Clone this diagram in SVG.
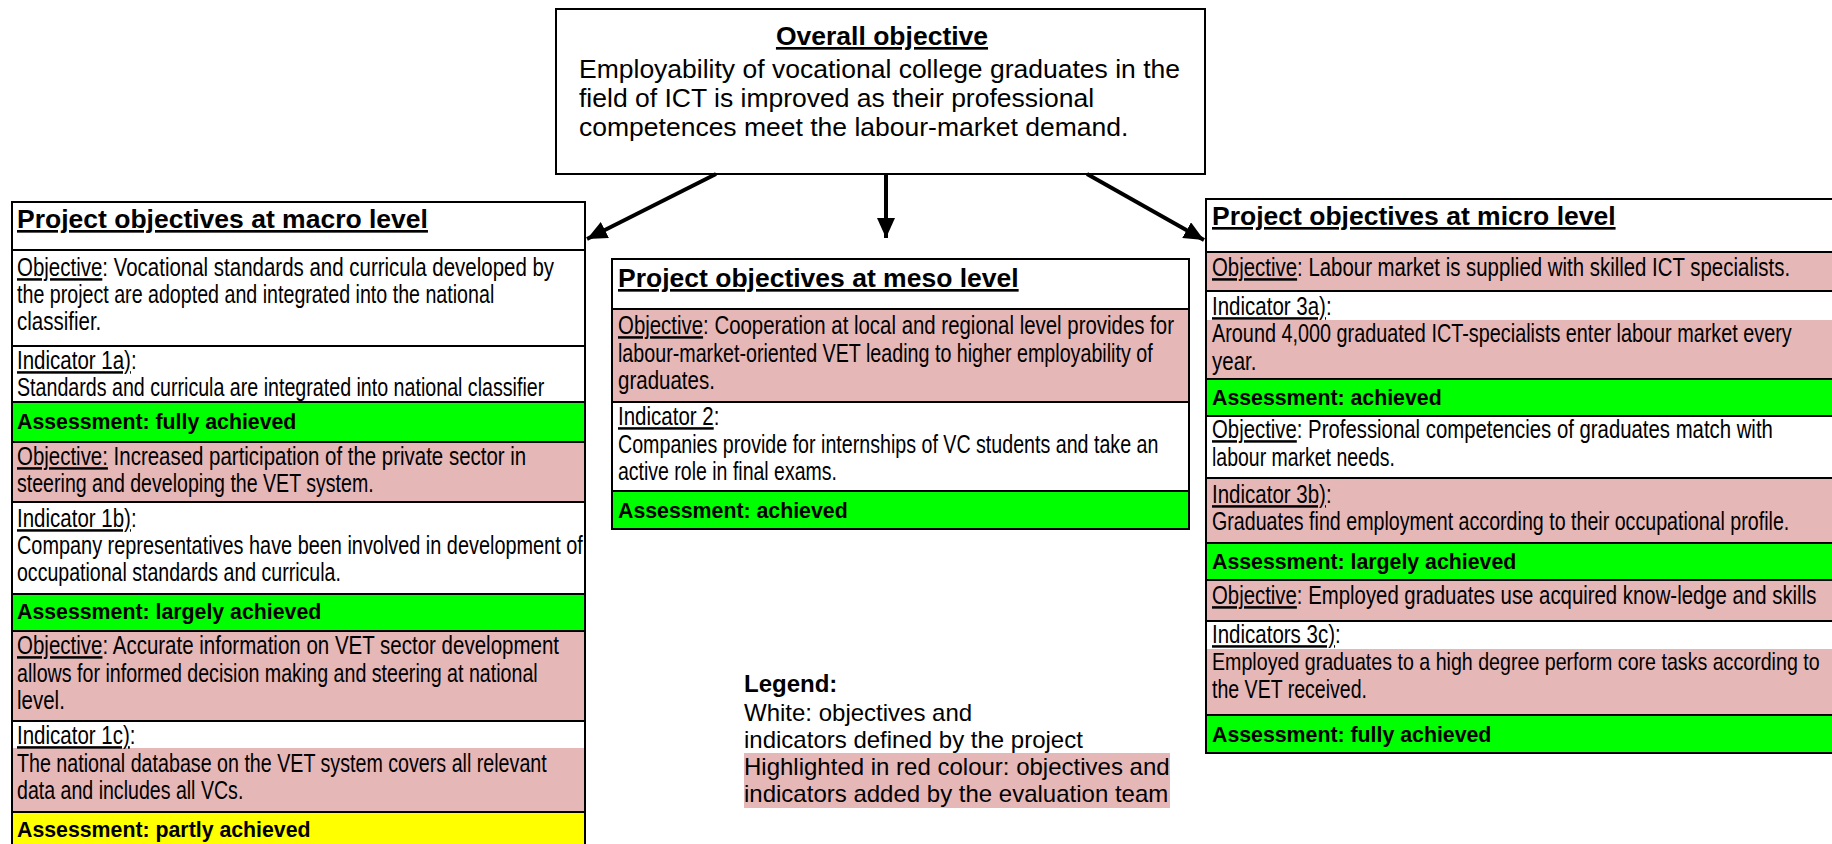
<svg xmlns="http://www.w3.org/2000/svg" width="1832" height="844" viewBox="0 0 1832 844">
<style>
text{font-family:"Liberation Sans",Arial,sans-serif;fill:#000}
.h{font-size:26.5px;font-weight:bold;text-decoration:underline}
.b{font-size:25px}
.a{font-size:21.3px;font-weight:bold}
.o{font-size:26.5px}
.lg{font-size:24px}
.u{text-decoration:underline}
.w{fill:#fff}
.p{fill:#E5B7B7}
.g{fill:#00FF00}
.y{fill:#FFFF00}
.sep{stroke:#000;stroke-width:2;fill:none}
.frame{fill:none;stroke:#000;stroke-width:2}
.conn{stroke:#000;stroke-width:4;fill:none}
</style>
<defs>
<marker id="arr" markerUnits="userSpaceOnUse" markerWidth="22" markerHeight="18" refX="20" refY="9" orient="auto">
<path d="M0,0 L20,9 L0,18 Z" fill="#000"/>
</marker>
</defs>
<rect width="1832" height="844" fill="#fff"/>

<g id="node-overall">
<rect x="556" y="9" width="649" height="165" class="frame" fill="#fff"/>
<text x="882" y="45" class="h" text-anchor="middle">Overall objective</text>
<text x="579" y="78" class="o">Employability of vocational college graduates in the</text>
<text x="579" y="107" class="o">field of ICT is improved as their professional</text>
<text x="579" y="136" class="o">competences meet the labour-market demand.</text>
</g>

<g id="connectors">
<line x1="716" y1="174" x2="587" y2="239" class="conn" marker-end="url(#arr)"/>
<line x1="886" y1="174" x2="886" y2="238" class="conn" marker-end="url(#arr)"/>
<line x1="1087" y1="174" x2="1204" y2="240" class="conn" marker-end="url(#arr)"/>
</g>

<g id="node-macro">
<rect x="12" y="202" width="573" height="48" class="w"/>
<rect x="12" y="250" width="573" height="96" class="w"/>
<rect x="12" y="346" width="573" height="56" class="w"/>
<rect x="12" y="402" width="573" height="40" class="g"/>
<rect x="12" y="442" width="573" height="60" class="p"/>
<rect x="12" y="502" width="573" height="92" class="w"/>
<rect x="12" y="594" width="573" height="37" class="g"/>
<rect x="12" y="631" width="573" height="90" class="p"/>
<rect x="12" y="721" width="573" height="27" class="w"/>
<rect x="12" y="748" width="573" height="64" class="p"/>
<rect x="12" y="812" width="573" height="32" class="y"/>
<path class="sep" d="M12,250H585M12,346H585M12,402H585M12,442H585M12,502H585M12,594H585M12,631H585M12,721H585M12,812H585"/>
<path class="frame" d="M12,844V202H585V844"/>
<text x="17" y="228" class="h">Project objectives at macro level</text>
<g transform="translate(17 0) scale(0.82 1)">
<text x="0" y="276" class="b" textLength="655" lengthAdjust="spacingAndGlyphs"><tspan class="u">Objective</tspan>: Vocational standards and curricula developed by</text>
<text x="0" y="303" class="b" textLength="582" lengthAdjust="spacingAndGlyphs">the project are adopted and integrated into the national</text>
<text x="0" y="330" class="b">classifier.</text>
<text x="0" y="369" class="b"><tspan class="u">Indicator 1a)</tspan>:</text>
<text x="0" y="396" class="b" textLength="643" lengthAdjust="spacingAndGlyphs">Standards and curricula are integrated into national classifier</text>
<text x="0" y="465" class="b" textLength="621" lengthAdjust="spacingAndGlyphs"><tspan class="u">Objective:</tspan> Increased participation of the private sector in</text>
<text x="0" y="492" class="b" textLength="435" lengthAdjust="spacingAndGlyphs">steering and developing the VET system.</text>
<text x="0" y="527" class="b"><tspan class="u">Indicator 1b)</tspan>:</text>
<text x="0" y="554" class="b" textLength="690" lengthAdjust="spacingAndGlyphs">Company representatives have been involved in development of</text>
<text x="0" y="581" class="b" textLength="395" lengthAdjust="spacingAndGlyphs">occupational standards and curricula.</text>
<text x="0" y="654" class="b" textLength="661" lengthAdjust="spacingAndGlyphs"><tspan class="u">Objective</tspan>: Accurate information on VET sector development</text>
<text x="0" y="682" class="b" textLength="635" lengthAdjust="spacingAndGlyphs">allows for informed decision making and steering at national</text>
<text x="0" y="709" class="b">level.</text>
<text x="0" y="744" class="b"><tspan class="u">Indicator 1c)</tspan>:</text>
<text x="0" y="772" class="b" textLength="646" lengthAdjust="spacingAndGlyphs">The national database on the VET system covers all relevant</text>
<text x="0" y="799" class="b" textLength="276" lengthAdjust="spacingAndGlyphs">data and includes all VCs.</text>
</g>
<text x="17" y="429" class="a">Assessment: fully achieved</text>
<text x="17" y="619" class="a">Assessment: largely achieved</text>
<text x="17" y="837" class="a">Assessment: partly achieved</text>
</g>

<g id="node-meso">
<rect x="612" y="259" width="577" height="50" class="w"/>
<rect x="612" y="309" width="577" height="93" class="p"/>
<rect x="612" y="402" width="577" height="89" class="w"/>
<rect x="612" y="491" width="577" height="38" class="g"/>
<path class="sep" d="M612,309H1189M612,402H1189M612,491H1189"/>
<rect x="612" y="259" width="577" height="270" class="frame"/>
<text x="618" y="287" class="h">Project objectives at meso level</text>
<g transform="translate(618 0) scale(0.82 1)">
<text x="0" y="334" class="b" textLength="678" lengthAdjust="spacingAndGlyphs"><tspan class="u">Objective</tspan>: Cooperation at local and regional level provides for</text>
<text x="0" y="362" class="b" textLength="652" lengthAdjust="spacingAndGlyphs">labour-market-oriented VET leading to higher employability of</text>
<text x="0" y="389" class="b">graduates.</text>
<text x="0" y="425" class="b"><tspan class="u">Indicator 2</tspan>:</text>
<text x="0" y="453" class="b" textLength="659" lengthAdjust="spacingAndGlyphs">Companies provide for internships of VC students and take an</text>
<text x="0" y="480" class="b" textLength="267" lengthAdjust="spacingAndGlyphs">active role in final exams.</text>
</g>
<text x="618" y="518" class="a">Assessment: achieved</text>
</g>

<g id="node-micro">
<rect x="1206" y="199" width="626" height="53" class="w"/>
<rect x="1206" y="252" width="626" height="39" class="p"/>
<rect x="1206" y="291" width="626" height="29" class="w"/>
<rect x="1206" y="320" width="626" height="59" class="p"/>
<rect x="1206" y="379" width="626" height="37" class="g"/>
<rect x="1206" y="416" width="626" height="62" class="w"/>
<rect x="1206" y="478" width="626" height="65" class="p"/>
<rect x="1206" y="543" width="626" height="37" class="g"/>
<rect x="1206" y="580" width="626" height="41" class="p"/>
<rect x="1206" y="621" width="626" height="28" class="w"/>
<rect x="1206" y="649" width="626" height="66" class="p"/>
<rect x="1206" y="715" width="626" height="38" class="g"/>
<path class="sep" d="M1206,252H1832M1206,291H1832M1206,379H1832M1206,416H1832M1206,478H1832M1206,543H1832M1206,580H1832M1206,621H1832M1206,715H1832"/>
<path class="frame" d="M1832,199H1206V753H1832"/>
<text x="1212" y="225" class="h">Project objectives at micro level</text>
<g transform="translate(1212 0) scale(0.82 1)">
<text x="0" y="276" class="b" textLength="705" lengthAdjust="spacingAndGlyphs"><tspan class="u">Objective</tspan>: Labour market is supplied with skilled ICT specialists.</text>
<text x="0" y="315" class="b"><tspan class="u">Indicator 3a)</tspan>:</text>
<text x="0" y="342" class="b" textLength="707" lengthAdjust="spacingAndGlyphs">Around 4,000 graduated ICT-specialists enter  labour market  every</text>
<text x="0" y="370" class="b">year.</text>
<text x="0" y="438" class="b" textLength="684" lengthAdjust="spacingAndGlyphs"><tspan class="u">Objective</tspan>: Professional competencies of graduates match with</text>
<text x="0" y="466" class="b" textLength="223" lengthAdjust="spacingAndGlyphs">labour market needs.</text>
<text x="0" y="503" class="b"><tspan class="u">Indicator 3b)</tspan>:</text>
<text x="0" y="530" class="b" textLength="704" lengthAdjust="spacingAndGlyphs">Graduates find employment according to their occupational profile.</text>
<text x="0" y="604" class="b" textLength="737" lengthAdjust="spacingAndGlyphs"><tspan class="u">Objective</tspan>: Employed graduates use acquired know-ledge and skills</text>
<text x="0" y="643" class="b"><tspan class="u">Indicators 3c)</tspan>:</text>
<text x="0" y="670" class="b" font-size="24" style="font-size:24px" textLength="741" lengthAdjust="spacingAndGlyphs">Employed graduates to a high degree perform core tasks according to</text>
<text x="0" y="698" class="b" textLength="189" lengthAdjust="spacingAndGlyphs">the VET received.</text>
</g>
<text x="1212" y="405" class="a">Assessment: achieved</text>
<text x="1212" y="569" class="a">Assessment: largely achieved</text>
<text x="1212" y="742" class="a">Assessment: fully achieved</text>
</g>

<g id="legend">
<rect x="744" y="753" width="426" height="55" class="p"/>
<text x="744" y="692" class="lg" font-weight="bold">Legend:</text>
<text x="744" y="721" class="lg">White: objectives and</text>
<text x="744" y="748" class="lg">indicators defined by the project</text>
<text x="744" y="775" class="lg">Highlighted in red colour: objectives and</text>
<text x="744" y="802" class="lg">indicators added by the evaluation team</text>
</g>
</svg>
